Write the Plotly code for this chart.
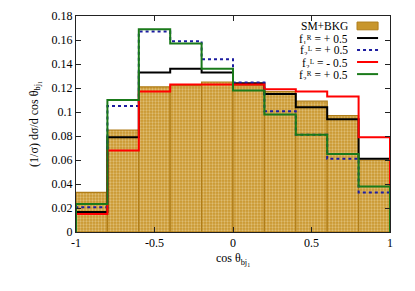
import plotly.graph_objects as go

# ---- data ----
bin_edges = [-1.0, -0.8, -0.6, -0.4, -0.2, 0.0, 0.2, 0.4, 0.6, 0.8, 1.0]
sm_bkg = [0.033, 0.085, 0.121, 0.122, 0.125, 0.122, 0.117, 0.109, 0.097, 0.060]
f1R_p05 = [0.0167, 0.079, 0.133, 0.136, 0.133, 0.124, 0.115, 0.104, 0.094, 0.061]
f2L_p05 = [0.0206, 0.105, 0.167, 0.159, 0.144, 0.1245, 0.1007, 0.081, 0.061, 0.033]
f2L_m05 = [0.015, 0.068, 0.117, 0.123, 0.123, 0.123, 0.119, 0.117, 0.113, 0.079]
f2R_p05 = [0.0233, 0.110, 0.169, 0.157, 0.136, 0.118, 0.098, 0.081, 0.065, 0.038]

legend_labels = [
    "SM+BKG",
    "f₁ᴿ = + 0.5",
    "f₂ᴸ = + 0.5",
    "f₂ᴸ = - 0.5",
    "f₂ᴿ = + 0.5",
]
x_tickvals = [-1, -0.5, 0, 0.5, 1]
x_ticktext = ["-1", "-0.5", "0", "0.5", "1"]
y_tickvals = [0, 0.02, 0.04, 0.06, 0.08, 0.1, 0.12, 0.14, 0.16, 0.18]
y_ticktext = ["0", "0.02", "0.04", "0.06", "0.08", "0.1", "0.12", "0.14", "0.16", "0.18"]

FONT = "Liberation Serif, DejaVu Serif, Times New Roman, serif"
GOLD = "#c8962d"
GOLD_EDGE = "#b07d18"

centers = [(bin_edges[i] + bin_edges[i + 1]) / 2 for i in range(len(bin_edges) - 1)]
widths = [bin_edges[i + 1] - bin_edges[i] for i in range(len(bin_edges) - 1)]

fig = go.Figure()
fig.add_trace(go.Bar(
    x=centers, y=sm_bkg, width=widths,
    marker=dict(color=GOLD,
                line=dict(color=GOLD_EDGE, width=1.2),
                pattern=dict(shape=".", fgcolor="#f3e2b5", bgcolor=GOLD, size=3, solidity=0.45)),
    showlegend=False, hoverinfo="skip",
))


def step(vals, color, dash="solid", width=2):
    xs = [bin_edges[0]] + bin_edges[:-1] + [bin_edges[-1]]
    ys = [0] + list(vals) + [0]
    fig.add_trace(go.Scatter(x=xs, y=ys, mode="lines", line_shape="hv",
                             line=dict(color=color, dash=dash, width=width),
                             showlegend=False, hoverinfo="skip"))


series = [
    (f1R_p05, "#000000", "solid"),
    (f2L_p05, "#1c1ca0", "dot"),
    (f2L_m05, "#ff0000", "solid"),
    (f2R_p05, "#1a7a1a", "solid"),
]
for vals, col, dash in series:
    step(vals, col, dash)

# ---- custom legend (text left of sample, like gnuplot) ----
leg_y = [0.954, 0.898, 0.843, 0.787, 0.731]
text_x = 0.873
for i, lab in enumerate(legend_labels):
    fig.add_annotation(x=text_x, y=leg_y[i], xref="paper", yref="paper",
                       text=lab, showarrow=False, xanchor="right", yanchor="middle",
                       height=11, valign="middle",
                       font=dict(family=FONT, size=11.5, color="black"))
fig.add_shape(type="rect", xref="paper", yref="paper",
              x0=0.895, x1=0.962, y0=leg_y[0] - 0.018, y1=leg_y[0] + 0.018,
              fillcolor=GOLD, line=dict(color=GOLD_EDGE, width=1))
for i, (vals, col, dash) in enumerate(series):
    fig.add_shape(type="line", xref="paper", yref="paper",
                  x0=0.895, x1=0.962, y0=leg_y[i + 1], y1=leg_y[i + 1],
                  line=dict(color=col, width=2, dash=dash))

axis_common = dict(showline=True, linecolor="#222", linewidth=1, mirror="allticks",
                   ticks="inside", ticklen=5, tickcolor="#222", showgrid=False,
                   zeroline=False, automargin=False,
                   tickfont=dict(family=FONT, size=12, color="black"))
fig.update_xaxes(range=[-1, 1], tickvals=x_tickvals, ticktext=x_ticktext,
                 title=dict(text="cos θ<sub>bj<sub>1</sub></sub>", standoff=4,
                            font=dict(family=FONT, size=12, color="black")),
                 **axis_common)
fig.update_yaxes(range=[0, 0.18], tickvals=y_tickvals, ticktext=y_ticktext,
                 title=dict(text="(1/σ) dσ/d cos θ<sub>bj<sub>1</sub></sub>", standoff=10,
                            font=dict(family=FONT, size=12, color="black")),
                 **axis_common)
fig.update_layout(width=415, height=291,
                  margin=dict(l=76, r=25, t=16, b=59),
                  plot_bgcolor="white", paper_bgcolor="white",
                  bargap=0, barmode="overlay", hovermode=False,
                  font=dict(family=FONT, size=12, color="black"))
fig.write_html("out.html", config={"displayModeBar": False, "staticPlot": True},
               post_script="document.body.style.margin='0';")
